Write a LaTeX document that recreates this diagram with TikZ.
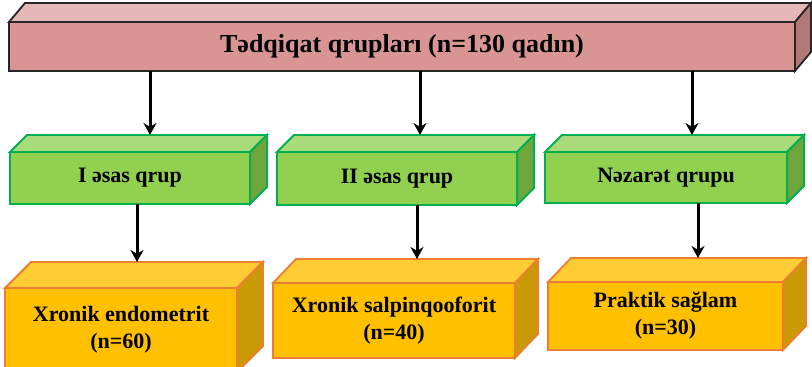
\documentclass[tikz,border=0pt]{standalone}
\usepackage{fontspec}
\setmainfont{Liberation Serif}
\usetikzlibrary{arrows.meta}
\definecolor{PinkFront}{HTML}{D99594}
\definecolor{PinkTop}{HTML}{E5B8B7}
\definecolor{PinkSide}{HTML}{B07877}
\definecolor{GreenFront}{HTML}{92D050}
\definecolor{GreenTop}{HTML}{AADB7A}
\definecolor{GreenSide}{HTML}{6EA53C}
\definecolor{GreenLine}{HTML}{00B050}
\definecolor{GoldFront}{HTML}{FFC000}
\definecolor{GoldTop}{HTML}{FFCC33}
\definecolor{GoldSide}{HTML}{C99A06}
\definecolor{GoldLine}{HTML}{ED7D31}

% top and side faces of a box drawn behind its front node
\newcommand{\boxfaces}[5]{%
  \filldraw[fill=#4] (#1.north west) -- ++(#2,-#3) -- ([shift={(#2,-#3)}]#1.north east) -- (#1.north east) -- cycle;
  \filldraw[fill=#5] (#1.north east) -- ++(#2,-#3) -- ([shift={(#2,-#3)}]#1.south east) -- (#1.south east) -- cycle;}

\begin{document}
\begin{tikzpicture}[x=1pt,y=-1pt,
  front/.style={draw, outer sep=0pt, inner sep=0pt, align=center, font=\bfseries\fontsize{22}{27}\selectfont},
  pinkbox/.style={front, fill=PinkFront, draw=black!85, line width=1.8pt},
  greenbox/.style={front, fill=GreenFront, draw=GreenLine, line width=1.8pt},
  goldbox/.style={front, fill=GoldFront, draw=GoldLine, line width=1.8pt},
  arr/.style={line width=3pt, -{Stealth[length=12pt,width=13pt]}}]
\useasboundingbox (0,0) rectangle (812,367);

% top box
\node[pinkbox, minimum width=786pt, minimum height=49pt, font=\bfseries\fontsize{26}{28}\selectfont]
  (tq) at (402,46.5) {Tədqiqat qrupları (n=130 qadın)};
\begin{scope}[draw=black!85, line width=1.8pt]
  \boxfaces{tq}{16}{19}{PinkTop}{PinkSide}
\end{scope}

% groups
\node[greenbox, minimum width=240pt, minimum height=52pt] (g1) at (130,178) {I əsas qrup};
\node[greenbox, minimum width=240pt, minimum height=53pt] (g2) at (397,178.5) {II əsas qrup};
\node[greenbox, minimum width=242pt, minimum height=51pt] (g3) at (666,177.5) {Nəzarət qrupu};
\begin{scope}[draw=GreenLine, line width=1.8pt]
  \boxfaces{g1}{17}{17}{GreenTop}{GreenSide}
  \boxfaces{g2}{17}{17}{GreenTop}{GreenSide}
  \boxfaces{g3}{17}{17}{GreenTop}{GreenSide}
\end{scope}

% diagnoses
\node[goldbox, minimum width=232pt, minimum height=84pt] (d1) at (121,330) {Xronik endometrit\\(n=60)};
\node[goldbox, minimum width=242pt, minimum height=75pt] (d2) at (394,320.5) {Xronik salpinqooforit\\(n=40)};
\node[goldbox, minimum width=235pt, minimum height=68pt] (d3) at (665.5,316) {Praktik sağlam\\(n=30)};
\begin{scope}[draw=GoldLine, line width=1.8pt]
  \boxfaces{d1}{26}{26}{GoldTop}{GoldSide}
  \boxfaces{d2}{23}{24}{GoldTop}{GoldSide}
  \boxfaces{d3}{23}{24}{GoldTop}{GoldSide}
\end{scope}

% arrow ends on the top faces
\coordinate (a1) at (150,135);
\coordinate (a2) at (420,135);
\coordinate (a3) at (692,135);
\coordinate (b1) at (137,262);
\coordinate (b2) at (417,259);
\coordinate (b3) at (698,258);

\draw[arr] (tq.south -| a1) -- (a1);
\draw[arr] (tq.south -| a2) -- (a2);
\draw[arr] (tq.south -| a3) -- (a3);
\draw[arr] (g1.south -| b1) -- (b1);
\draw[arr] (g2.south -| b2) -- (b2);
\draw[arr] (g3.south -| b3) -- (b3);
\end{tikzpicture}
\end{document}
